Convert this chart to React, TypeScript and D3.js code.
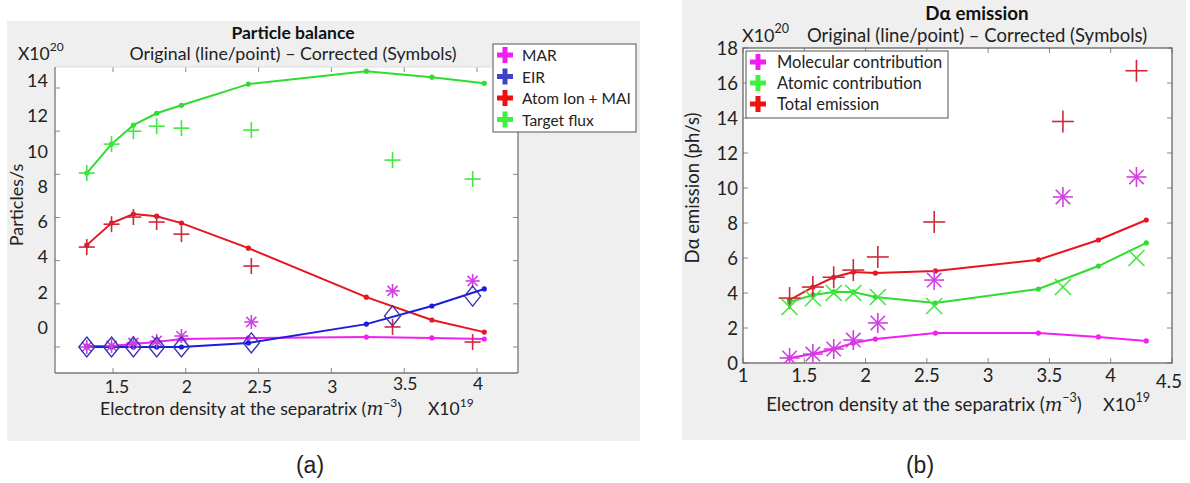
import React from "react";
import * as d3 from "d3";

// ---------- Panel (a): Particle balance ----------
const aLineX = [1.32, 1.49, 1.64, 1.8, 1.97, 2.43, 3.24, 3.69, 4.05];
const aSymX = [1.32, 1.49, 1.64, 1.8, 1.97, 2.45, 3.42, 3.97];
const targetLine = [8.06, 9.4, 10.28, 10.83, 11.2, 12.18, 12.78, 12.5, 12.22];
const targetSym = [8.06, 9.4, 10.0, 10.23, 10.14, 10.05, 8.66, 7.78];
const atomLine = [4.72, 5.74, 6.16, 6.06, 5.74, 4.58, 2.31, 1.25, 0.69];
const atomSym = [4.63, 5.69, 6.02, 5.79, 5.23, 3.75, 0.93, 0.23];
const eirLine = [0, 0, 0, 0, 0, 0.19, 1.06, 1.9, 2.69];
const eirSym = [0, 0, 0, 0, 0, 0.19, 1.44, 2.36];
const marLine = [0.05, 0.05, 0.14, 0.23, 0.37, 0.42, 0.46, 0.42, 0.37];
const marSym = [0, 0.05, 0.19, 0.28, 0.51, 1.16, 2.6, 3.06];
const aXTicks = [1.5, 2, 2.5, 3, 3.5, 4];
const aYTicks = [0, 2, 4, 6, 8, 10, 12];
const aYLabels = [0, 2, 4, 6, 8, 10, 12, 14];
const aLegend = ["MAR", "EIR", "Atom Ion + MAI", "Target flux"];

// ---------- Panel (b): D-alpha emission ----------
const bLineX = [1.38, 1.57, 1.74, 1.9, 2.08, 2.57, 3.41, 3.9, 4.29];
const bSymX = [1.38, 1.57, 1.74, 1.9, 2.1, 2.56, 3.61, 4.21];
const totalLine = [3.6, 4.34, 4.9, 5.2, 5.14, 5.26, 5.9, 7.03, 8.17];
const atomicLine = [3.49, 3.89, 4.06, 4.06, 3.77, 3.43, 4.23, 5.54, 6.86];
const molLine = [0.29, 0.51, 0.8, 1.14, 1.37, 1.71, 1.71, 1.49, 1.26];
const totalSym = [3.71, 4.34, 4.9, 5.31, 6.06, 8.06, 13.8, 16.7];
const atomicSym = [3.2, 3.7, 4.0, 4.0, 3.77, 3.26, 4.34, 6.0];
const molSym = [0.29, 0.51, 0.8, 1.31, 2.29, 4.74, 9.49, 10.63];
const bXTicks = [1, 1.5, 2, 2.5, 3, 3.5, 4, 4.5];
const bYTicks = [0, 2, 4, 6, 8, 10, 12, 14, 16, 18];
const bLegend = ["Molecular contribution", "Atomic contribution", "Total emission"];

const FONT = "Lato, 'Open Sans', sans-serif";

const GREEN = "#2fdc2f";
const GREEN_S = "#3fe83f";
const RED = "#e8141e";
const RED_S = "#d0283a";
const BLUE = "#1c1ce0";
const BLUE_S = "#3434b4";
const MAG = "#f020f0";
const MAG_S = "#d040e0";

type Sc = d3.ScaleLinear<number, number>;

function LineSeries({ xs, ys, x, y, color }: { xs: number[]; ys: number[]; x: Sc; y: Sc; color: string }) {
  const gen = d3.line<number>().x((_, i) => x(xs[i])).y((d) => y(d));
  return (
    <g>
      <path d={gen(ys) || ""} fill="none" stroke={color} strokeWidth={2} />
      {ys.map((v, i) => (
        <circle key={i} cx={x(xs[i])} cy={y(v)} r={2.6} fill={color} />
      ))}
    </g>
  );
}

function Marker({ kind, cx, cy, s, color }: { kind: string; cx: number; cy: number; s: number; color: string }) {
  const sw = 1.6;
  if (kind === "plus") {
    return (
      <g stroke={color} strokeWidth={sw}>
        <line x1={cx - s} y1={cy} x2={cx + s} y2={cy} />
        <line x1={cx} y1={cy - s} x2={cx} y2={cy + s} />
      </g>
    );
  }
  if (kind === "x") {
    return (
      <g stroke={color} strokeWidth={sw}>
        <line x1={cx - s} y1={cy - s} x2={cx + s} y2={cy + s} />
        <line x1={cx - s} y1={cy + s} x2={cx + s} y2={cy - s} />
      </g>
    );
  }
  if (kind === "star") {
    const d = s * 0.72;
    return (
      <g stroke={color} strokeWidth={sw}>
        <line x1={cx - s} y1={cy} x2={cx + s} y2={cy} />
        <line x1={cx} y1={cy - s} x2={cx} y2={cy + s} />
        <line x1={cx - d} y1={cy - d} x2={cx + d} y2={cy + d} />
        <line x1={cx - d} y1={cy + d} x2={cx + d} y2={cy - d} />
      </g>
    );
  }
  const w = s * 0.8;
  return (
    <path
      d={`M${cx},${cy - s}L${cx + w},${cy}L${cx},${cy + s}L${cx - w},${cy}Z`}
      fill="none"
      stroke={color}
      strokeWidth={1.4}
    />
  );
}

function SymSeries({ xs, ys, x, y, color, kind, s }: { xs: number[]; ys: number[]; x: Sc; y: Sc; color: string; kind: string; s: number }) {
  return (
    <g>
      {ys.map((v, i) => (
        <Marker key={i} kind={kind} cx={x(xs[i])} cy={y(v)} s={s} color={color} />
      ))}
    </g>
  );
}

function FatPlus({ cx, cy, color }: { cx: number; cy: number; color: string }) {
  return (
    <g stroke={color} strokeWidth={5}>
      <line x1={cx - 8} y1={cy} x2={cx + 8} y2={cy} />
      <line x1={cx} y1={cy - 8} x2={cx} y2={cy + 8} />
    </g>
  );
}

function PanelA() {
  const L = 55, R = 518, T = 67, B = 373;
  const x = d3.scaleLinear().domain([1.5, 4]).range([113, 477]);
  const y = d3.scaleLinear().domain([0, 12]).range([347, 88]);
  const yLab = d3.scaleLinear().domain([0, 14]).range([327, 80]);
  const legColors = [MAG, "#4040c8", "#f01010", "#40f040"];
  return (
    <g fontFamily={FONT}>
      <rect x={7} y={21} width={633} height={420} fill="#efefef" />
      <rect x={L} y={T} width={R - L} height={B - T} fill="#fff" />
      <clipPath id="clipA">
        <rect x={L} y={T} width={R - L} height={B - T} />
      </clipPath>
      {aXTicks.map((t) => (
        <g key={t} stroke="#888" strokeWidth={1}>
          <line x1={x(t)} x2={x(t)} y1={T} y2={T + 5} />
          <line x1={x(t)} x2={x(t)} y1={B} y2={B - 5} />
        </g>
      ))}
      {aYTicks.map((t) => (
        <g key={t} stroke="#888" strokeWidth={1}>
          <line x1={L} x2={L + 5} y1={y(t)} y2={y(t)} />
          <line x1={R} x2={R - 5} y1={y(t)} y2={y(t)} />
        </g>
      ))}
      <line x1={L} x2={R} y1={T} y2={T} stroke="#ddd" />
      <line x1={L} x2={L} y1={T} y2={B} stroke="#777" strokeWidth={1.3} />
      <line x1={L} x2={R} y1={B} y2={B} stroke="#777" strokeWidth={1.3} />
      <line x1={R} x2={R} y1={T} y2={B} stroke="#777" strokeWidth={1.3} />
      <g clipPath="url(#clipA)">
        <LineSeries xs={aLineX} ys={targetLine} x={x} y={y} color={GREEN} />
        <LineSeries xs={aLineX} ys={atomLine} x={x} y={y} color={RED} />
        <LineSeries xs={aLineX} ys={marLine} x={x} y={y} color={MAG} />
        <LineSeries xs={aLineX} ys={eirLine} x={x} y={y} color={BLUE} />
        <SymSeries xs={aSymX} ys={targetSym} x={x} y={y} color={GREEN_S} kind="plus" s={8} />
        <SymSeries xs={aSymX} ys={atomSym} x={x} y={y} color={RED_S} kind="plus" s={8} />
        <SymSeries xs={aSymX} ys={marSym} x={x} y={y} color={MAG_S} kind="star" s={7} />
        <SymSeries xs={aSymX} ys={eirSym} x={x} y={y} color={BLUE_S} kind="diamond" s={10} />
      </g>
      {aYLabels.map((t) => (
        <text key={t} x={48} y={yLab(t)} textAnchor="end" dominantBaseline="central" fontSize={18} fill="#222">
          {t}
        </text>
      ))}
      {aXTicks.map((t) => (
        <text key={t} x={x(t) + (t === 1.5 ? 4 : 1)} y={t >= 3.5 ? 383 : 386} textAnchor="middle" dominantBaseline="central" fontSize={17.5} fill="#222">
          {t}
        </text>
      ))}
      <text x={293} y={32} textAnchor="middle" dominantBaseline="central" fontSize={17.5} fontWeight="bold" fill="#111">
        Particle balance
      </text>
      <text x={293} y={53} textAnchor="middle" dominantBaseline="central" fontSize={17.8} fill="#222">
        Original (line/point) – Corrected (Symbols)
      </text>
      <text x={18} y={53} dominantBaseline="central" fontSize={17.5} fill="#222">
        X10<tspan dy={-7} fontSize={12}>20</tspan>
      </text>
      <text transform="translate(16,205) rotate(-90)" textAnchor="middle" dominantBaseline="central" fontSize={18} fill="#222">
        Particles/s
      </text>
      <text x={251} y={408} textAnchor="middle" dominantBaseline="central" fontSize={17.8} fill="#222">
        Electron density at the separatrix (<tspan fontStyle="italic" fontFamily="'DejaVu Serif', serif">m</tspan>
        <tspan dy={-6} fontSize={12}>−3</tspan>
        <tspan dy={6}>)</tspan>
      </text>
      <text x={428} y={408} dominantBaseline="central" fontSize={17.5} fill="#222">
        X10<tspan dy={-6} fontSize={12}>19</tspan>
      </text>
      <rect x={493} y={44} width={143} height={88} fill="#fff" stroke="#555" strokeWidth={1} />
      {aLegend.map((name, i) => (
        <g key={name}>
          <FatPlus cx={505} cy={55 + i * 21.5} color={legColors[i]} />
          <text x={522} y={55 + i * 21.5} dominantBaseline="central" fontSize={15.5} fill="#222">
            {name}
          </text>
        </g>
      ))}
      <text x={310} y={465} textAnchor="middle" dominantBaseline="central" fontSize={23} fontFamily="'Liberation Sans', Arial, sans-serif" fill="#222">
        (a)
      </text>
    </g>
  );
}

function PanelB() {
  const L = 743, R = 1172, T = 48, B = 363;
  const x = d3.scaleLinear().domain([1, 4.5]).range([L, R]);
  const y = d3.scaleLinear().domain([0, 18]).range([B, T]);
  const legColors = [MAG, "#40f040", "#f01010"];
  return (
    <g fontFamily={FONT}>
      <rect x={682} y={0} width={504} height={440} fill="#efefef" />
      <rect x={L} y={T} width={R - L} height={B - T} fill="#fff" />
      <clipPath id="clipB">
        <rect x={L} y={T} width={R - L} height={B - T} />
      </clipPath>
      {bXTicks.map((t) => (
        <g key={t} stroke="#888" strokeWidth={1}>
          <line x1={x(t)} x2={x(t)} y1={T} y2={T + 5} />
          <line x1={x(t)} x2={x(t)} y1={B} y2={B - 5} />
        </g>
      ))}
      {bYTicks.map((t) => (
        <g key={t} stroke="#888" strokeWidth={1}>
          <line x1={L} x2={L + 5} y1={y(t)} y2={y(t)} />
          <line x1={R} x2={R - 5} y1={y(t)} y2={y(t)} />
        </g>
      ))}
      <rect x={L} y={T} width={R - L} height={B - T} fill="none" stroke="#666" strokeWidth={1.3} />
      <g clipPath="url(#clipB)">
        <LineSeries xs={bLineX} ys={totalLine} x={x} y={y} color={RED} />
        <LineSeries xs={bLineX} ys={atomicLine} x={x} y={y} color={GREEN} />
        <LineSeries xs={bLineX} ys={molLine} x={x} y={y} color={MAG} />
        <SymSeries xs={bSymX} ys={totalSym} x={x} y={y} color={RED_S} kind="plus" s={11} />
        <SymSeries xs={bSymX} ys={atomicSym} x={x} y={y} color={GREEN_S} kind="x" s={8} />
        <SymSeries xs={bSymX} ys={molSym} x={x} y={y} color={MAG_S} kind="star" s={10} />
      </g>
      {bYTicks.map((t) => (
        <text key={t} x={738} y={y(t)} textAnchor="end" dominantBaseline="central" fontSize={18.5} fill="#222">
          {t}
        </text>
      ))}
      {bXTicks.map((t) => (
        <text key={t} x={x(t) - (t === 4.5 ? 3 : 0)} y={t === 4.5 ? 381 : 375} textAnchor="middle" dominantBaseline="central" fontSize={18.5} fill="#222">
          {t}
        </text>
      ))}
      <text x={977} y={12} textAnchor="middle" dominantBaseline="central" fontSize={18.8} fontWeight="bold" fill="#111">
        Dα emission
      </text>
      <text x={977} y={35} textAnchor="middle" dominantBaseline="central" fontSize={18.5} fill="#222">
        Original (line/point) – Corrected (Symbols)
      </text>
      <text x={742} y={35} dominantBaseline="central" fontSize={18} fill="#222">
        X10<tspan dy={-7} fontSize={12.5}>20</tspan>
      </text>
      <text transform="translate(692,188) rotate(-90)" textAnchor="middle" dominantBaseline="central" fontSize={18.5} fill="#222">
        Dα emission (ph/s)
      </text>
      <text x={924} y={404} textAnchor="middle" dominantBaseline="central" fontSize={18.6} fill="#222">
        Electron density at the separatrix (<tspan fontStyle="italic" fontFamily="'DejaVu Serif', serif">m</tspan>
        <tspan dy={-7} fontSize={12.5}>−3</tspan>
        <tspan dy={7}>)</tspan>
      </text>
      <text x={1103} y={404} dominantBaseline="central" fontSize={18} fill="#222">
        X10<tspan dy={-7} fontSize={12.5}>19</tspan>
      </text>
      <rect x={746} y={51} width={202} height={67} fill="#fff" stroke="#555" strokeWidth={1} />
      {bLegend.map((name, i) => (
        <g key={name}>
          <FatPlus cx={758} cy={62 + i * 21} color={legColors[i]} />
          <text x={777} y={62 + i * 21} dominantBaseline="central" fontSize={16.5} fill="#222">
            {name}
          </text>
        </g>
      ))}
      <text x={920} y={465} textAnchor="middle" dominantBaseline="central" fontSize={23} fontFamily="'Liberation Sans', Arial, sans-serif" fill="#222">
        (b)
      </text>
    </g>
  );
}

export default function App() {
  return (
    <div style={{ position: "absolute", left: 0, top: 0 }}>
      <svg width={1190} height={483} style={{ display: "block", background: "#fff" }}>
        <PanelA />
        <PanelB />
      </svg>
    </div>
  );
}
